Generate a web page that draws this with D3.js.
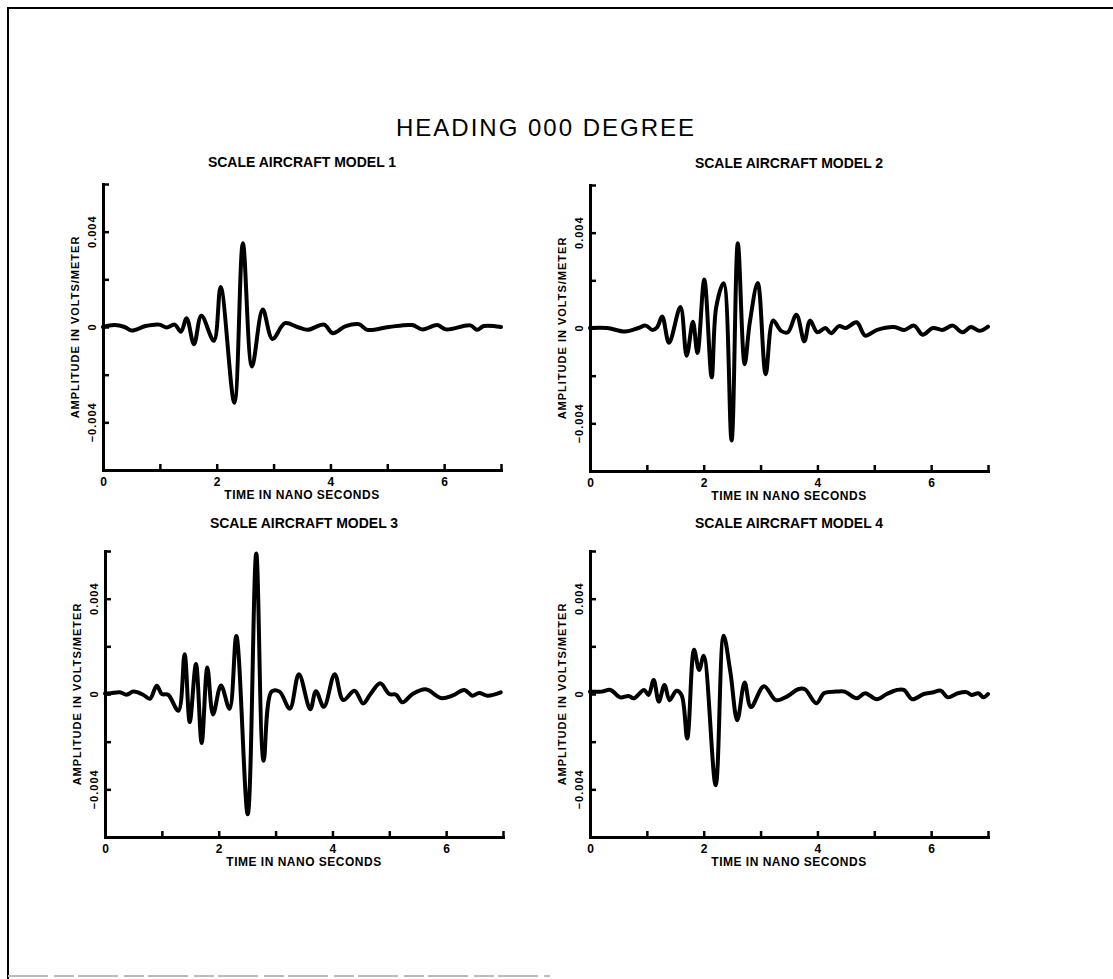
<!DOCTYPE html>
<html>
<head>
<script src="https://d3js.org/d3.v7.min.js"></script>
<style>
  body { margin: 0; background: #fff; }
  text { font-family: "Liberation Sans", Arial, sans-serif; fill: #000; }
</style>
</head>
<body>
<svg id="chart" width="1113" height="979"></svg>
<script>
// ---- data ----
var title = "HEADING 000 DEGREE";
var modelNames = ["SCALE AIRCRAFT MODEL 1", "SCALE AIRCRAFT MODEL 2", "SCALE AIRCRAFT MODEL 3", "SCALE AIRCRAFT MODEL 4"];
var xTitle = "TIME IN NANO SECONDS";
var yTitle = "AMPLITUDE IN VOLTS/METER";
var xTicks = [0, 1, 2, 3, 4, 5, 6, 7];
var xTickLabels = [0, 2, 4, 6];
var yTicks = [-0.006, -0.004, -0.002, 0, 0.002, 0.004, 0.006];
var yTickLabels = [-0.004, 0, 0.004];

// time in ns, amplitude in V/m
var t1 = [0, 0.2, 0.38, 0.5, 0.75, 0.99, 1.12, 1.26, 1.37, 1.47, 1.6, 1.73, 1.95, 2.07, 2.31, 2.46, 2.62, 2.81, 2.98, 3.2, 3.42, 3.6, 3.89, 4.04, 4.27, 4.5, 4.65, 5.03, 5.44, 5.62, 5.88, 6.03, 6.46, 6.58, 6.7, 7.0];
var v1 = [0, 0.00008, 0, -0.00015, 0.00004, 0.0001, -0.00002, 0.0001, -0.0002, 0.00037, -0.00072, 0.00047, -0.00058, 0.00168, -0.00318, 0.00351, -0.00166, 0.00073, -0.0005, 0.00016, 0, -0.00012, 0.0001, -0.00026, 0.00004, 0.00012, -0.00012, 0, 0.00008, -0.0001, 0.00008, -0.0001, 0.00007, -0.00012, 0.00004, 0];

var t2 = [0, 0.3, 0.62, 0.85, 0.98, 1.1, 1.18, 1.27, 1.39, 1.59, 1.7, 1.81, 1.89, 2.01, 2.14, 2.22, 2.35, 2.49, 2.6, 2.72, 2.81, 2.95, 3.09, 3.22, 3.36, 3.48, 3.63, 3.77, 3.87, 4.0, 4.14, 4.24, 4.38, 4.5, 4.69, 4.84, 5.05, 5.35, 5.53, 5.7, 5.85, 6.03, 6.2, 6.38, 6.55, 6.7, 6.85, 7.0];
var v2 = [0, 0, -0.00015, 0, 0.0001, -0.00008, 0.00003, 0.00048, -0.00062, 0.00088, -0.00116, 0.00026, -0.00105, 0.00203, -0.00207, 0.00088, 0.00188, -0.00472, 0.00356, -0.00152, 0.00022, 0.00189, -0.00194, 0.00031, -0.00012, -0.00018, 0.00056, -0.00056, 0.00031, -0.00018, 0, -0.00022, 0.00008, 0, 0.00024, -0.00032, -0.00008, 0.00004, -0.00008, 0.0001, -0.00028, 0, -0.00008, 0.0001, -0.00018, 0.00004, -0.00012, 0.00006];

var t3 = [0, 0.1, 0.26, 0.38, 0.5, 0.67, 0.79, 0.91, 1.0, 1.11, 1.29, 1.4, 1.49, 1.6, 1.7, 1.8, 1.9, 2.04, 2.19, 2.31, 2.51, 2.66, 2.79, 2.93, 3.07, 3.25, 3.41, 3.61, 3.71, 3.85, 4.04, 4.19, 4.39, 4.54, 4.67, 4.84, 5.0, 5.12, 5.23, 5.41, 5.64, 5.91, 6.11, 6.32, 6.46, 6.58, 6.73, 6.96];
var v3 = [0.00002, 0.00003, 0.00007, -0.00003, 0.0001, -0.00003, -0.0002, 0.00035, 0, -0.00003, -0.0007, 0.00167, -0.00118, 0.00126, -0.00206, 0.00111, -0.00086, 0.00036, -0.00062, 0.00243, -0.00505, 0.0059, -0.0028, 0.0001, 0.0001, -0.00062, 0.00083, -0.00064, 0.00012, -0.00054, 0.00083, -0.00025, 0.00014, -0.0004, 0, 0.00045, 0, -0.00003, -0.00035, 0, 0.0002, -0.00017, -0.00007, 0.00017, -0.00007, 0.00004, -0.00007, 0.00007];

var t4 = [0, 0.21, 0.36, 0.53, 0.68, 0.77, 0.95, 1.03, 1.12, 1.21, 1.31, 1.4, 1.52, 1.61, 1.71, 1.83, 1.92, 2.0, 2.21, 2.35, 2.47, 2.59, 2.72, 2.83, 3.06, 3.27, 3.47, 3.66, 3.78, 3.98, 4.12, 4.33, 4.48, 4.69, 4.84, 5.04, 5.22, 5.4, 5.52, 5.67, 5.87, 6.02, 6.17, 6.29, 6.47, 6.62, 6.71, 6.83, 6.92, 7.0];
var v4 = [0.0001, 0.0001, 0.00017, -0.00014, -0.00008, -0.00018, 0.00017, -0.00004, 0.00059, -0.00032, 0.00038, -0.00026, 0.00014, -0.00004, -0.00187, 0.00186, 0.00101, 0.0016, -0.00383, 0.00244, 0.0009, -0.0011, 0.00048, -0.00055, 0.00033, -0.00026, -0.0001, 0.0002, 0.0002, -0.00039, 0.00004, 0.0001, 0.0001, -0.00018, 0.00003, -0.00022, 0, 0.00017, 0.00017, -0.00022, 0, 0.00006, 0.00014, -0.00014, 0.00003, 0.00008, -0.00004, 0.00003, -0.00014, 0];

var series = [[t1, v1], [t2, v2], [t3, v3], [t4, v4]];

// ---- layout ----
var svg = d3.select("#chart");
var pw = 398, ph = 286;
// left, top, subtitle baseline offset
var panels = [[103, 184, -17], [590, 185, -17], [105, 551, -23], [590, 551, -23]];

var x = d3.scaleLinear().domain([0, 7]).range([0, pw]);
var y = d3.scaleLinear().domain([-0.006, 0.006]).range([ph, 0]);

// page frame
svg.append("path")
  .attr("d", "M8,979 L8,8 L1113,8")
  .attr("fill", "none").attr("stroke", "#000").attr("stroke-width", 2);
svg.append("line")
  .attr("x1", 8).attr("x2", 550).attr("y1", 976).attr("y2", 976)
  .attr("stroke", "#bbb").attr("stroke-width", 2).attr("stroke-dasharray", "40,6,20,4");

svg.append("text")
  .attr("x", 546).attr("y", 136)
  .attr("text-anchor", "middle")
  .attr("font-size", 24)
  .attr("letter-spacing", 2)
  .text(title);

var line = d3.line()
  .x(function(d) { return x(d[0]); })
  .y(function(d) { return y(d[1]); })
  .curve(d3.curveCatmullRom.alpha(0.5));

function fmtY(d) {
  return d === 0 ? "0" : d.toFixed(3).replace("-", "\u2212");
}

panels.forEach(function(p, i) {
  var g = svg.append("g").attr("transform", "translate(" + p[0] + "," + p[1] + ")");

  g.append("text")
    .attr("x", pw / 2).attr("y", p[2])
    .attr("text-anchor", "middle")
    .attr("font-size", 14).attr("font-weight", "bold")
    .text(modelNames[i]);

  // x axis
  var xa = g.append("g")
    .attr("transform", "translate(0," + ph + ")")
    .call(d3.axisBottom(x).tickValues(xTicks).tickSize(-6).tickSizeOuter(0).tickPadding(7)
      .tickFormat(function(d) { return xTickLabels.indexOf(d) >= 0 ? d : ""; }));

  // y axis
  var ya = g.append("g")
    .call(d3.axisLeft(y).tickValues(yTicks).tickSize(-6).tickSizeOuter(0).tickFormat(""));

  [xa, ya].forEach(function(a) {
    a.select(".domain").attr("stroke-width", 3).attr("stroke-linecap", "square");
    a.selectAll(".tick line").attr("stroke-width", 2.5);
    a.selectAll("text")
      .attr("font-family", "Liberation Sans, Arial, sans-serif")
      .attr("font-size", 12).attr("font-weight", "bold");
  });

  g.selectAll(".ylab")
    .data(yTickLabels)
    .enter().append("text")
    .attr("class", "ylab")
    .attr("transform", function(d) { return "translate(-11," + y(d) + ") rotate(-90)"; })
    .attr("text-anchor", "middle")
    .attr("dominant-baseline", "central")
    .attr("font-size", 11).attr("font-weight", "bold")
    .attr("letter-spacing", 1)
    .text(fmtY);

  g.append("text")
    .attr("transform", "translate(-28," + (ph / 2) + ") rotate(-90)")
    .attr("text-anchor", "middle")
    .attr("dominant-baseline", "central")
    .attr("font-size", 11).attr("font-weight", "bold")
    .attr("letter-spacing", 1)
    .text(yTitle);

  g.append("text")
    .attr("x", pw / 2).attr("y", ph + 29)
    .attr("text-anchor", "middle")
    .attr("font-size", 12).attr("font-weight", "bold")
    .attr("letter-spacing", 0.5)
    .text(xTitle);

  var s = series[i];
  var pts = d3.zip(s[0], s[1]);
  g.append("path")
    .datum(pts)
    .attr("fill", "none")
    .attr("stroke", "#000")
    .attr("stroke-width", 4)
    .attr("stroke-linejoin", "round")
    .attr("stroke-linecap", "round")
    .attr("d", line);
});
</script>
</body>
</html>
